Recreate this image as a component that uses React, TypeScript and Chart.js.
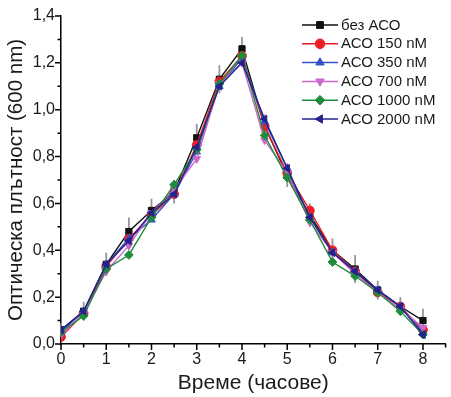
import { useEffect, useRef } from 'react';
import { Chart, registerables } from 'chart.js';
import { drawPoint } from 'chart.js/helpers';

Chart.register(...registerables);

const timeHours = [0, 0.5, 1, 1.5, 2, 2.5, 3, 3.5, 4, 4.5, 5, 5.5, 6, 6.5, 7, 7.5, 8];

const seriesLabels = ['без АСО', 'АСО 150 nM', 'АСО 350 nM', 'АСО 700 nM', 'АСО 1000 nM', 'АСО 2000 nM'];

const noASO = [0.06, 0.14, 0.34, 0.48, 0.57, 0.65, 0.88, 1.13, 1.26, 0.93, 0.72, 0.55, 0.40, 0.32, 0.23, 0.16, 0.10];
const aso150 = [0.03, 0.13, 0.33, 0.45, 0.55, 0.64, 0.85, 1.12, 1.23, 0.93, 0.73, 0.57, 0.40, 0.31, 0.22, 0.16, 0.06];
const aso350 = [0.05, 0.14, 0.34, 0.45, 0.53, 0.64, 0.82, 1.10, 1.22, 0.95, 0.75, 0.54, 0.39, 0.31, 0.23, 0.16, 0.05];
const aso700 = [0.04, 0.13, 0.31, 0.42, 0.56, 0.66, 0.79, 1.11, 1.20, 0.87, 0.73, 0.52, 0.39, 0.30, 0.22, 0.15, 0.07];
const aso1000 = [0.05, 0.12, 0.32, 0.38, 0.54, 0.68, 0.83, 1.11, 1.23, 0.89, 0.71, 0.53, 0.35, 0.29, 0.22, 0.14, 0.04];
const aso2000 = [0.06, 0.14, 0.34, 0.44, 0.56, 0.64, 0.84, 1.10, 1.20, 0.96, 0.75, 0.54, 0.39, 0.31, 0.23, 0.16, 0.04];

const errNoASO = [0.03, 0.04, 0.05, 0.06, 0.05, 0.05, 0.06, 0.06, 0.05, 0.05, 0.05, 0.05, 0.05, 0.06, 0.04, 0.04, 0.05];

const xTickValues = [0, 1, 2, 3, 4, 5, 6, 7, 8];
const yTickValues = [0, 0.2, 0.4, 0.6, 0.8, 1.0, 1.2, 1.4];

const seriesValues = [noASO, aso150, aso350, aso700, aso1000, aso2000];
const seriesColors = ['#111111', '#ee1c24', '#3552c4', '#cc66cc', '#1e8c3c', '#23238c'];
const seriesStyles = ['rect', 'circle', 'triangle', 'triangle', 'rectRot', 'triangle'];
const seriesRotation = [0, 0, 0, 180, 0, -90];
const seriesErrors = [errNoASO, null, null, null, null, null];

const FONT = '"Liberation Sans", Arial, sans-serif';
const TEXT = '#1a1a1a';

const errorBarPlugin = {
  id: 'errorBars',
  beforeDatasetsDraw(chart: any) {
    const { ctx } = chart;
    const xs = chart.scales.x;
    const ys = chart.scales.y;
    ctx.save();
    ctx.strokeStyle = 'rgba(140,140,140,0.9)';
    ctx.lineWidth = 1.8;
    seriesErrors.forEach((errs, si) => {
      if (!errs) return;
      const vals = seriesValues[si];
      timeHours.forEach((t, i) => {
        const px = xs.getPixelForValue(t);
        const top = ys.getPixelForValue(vals[i] + errs[i]);
        const bot = ys.getPixelForValue(Math.max(0, vals[i] - errs[i]));
        ctx.beginPath();
        ctx.moveTo(px, top);
        ctx.lineTo(px, bot);
        ctx.stroke();
      });
    });
    ctx.restore();
  },
};

const axisTicksPlugin = {
  id: 'axisTicks',
  afterDraw(chart: any) {
    const { ctx, chartArea } = chart;
    const xs = chart.scales.x;
    const ys = chart.scales.y;
    ctx.save();
    ctx.strokeStyle = '#000';
    ctx.lineWidth = 1.5;
    ctx.beginPath();
    for (let v = 0; v <= 8.5001; v += 0.5) {
      const px = xs.getPixelForValue(v);
      const major = Math.abs(v - Math.round(v)) < 1e-6;
      ctx.moveTo(px, chartArea.bottom);
      ctx.lineTo(px, chartArea.bottom + (major ? 6 : 3.5));
    }
    for (let k = 0; k <= 14; k++) {
      const v = k / 10;
      const py = ys.getPixelForValue(v);
      const major = k % 2 === 0;
      ctx.moveTo(chartArea.left, py);
      ctx.lineTo(chartArea.left - (major ? 6 : 3.5), py);
    }
    ctx.stroke();
    ctx.restore();
  },
};

const legendPlugin = {
  id: 'customLegend',
  afterDraw(chart: any) {
    const { ctx } = chart;
    const x0 = 302;
    const y0 = 25;
    const dy = 18.8;
    const lineLen = 36;
    chart.data.datasets.forEach((ds: any, i: number) => {
      const y = y0 + i * dy;
      ctx.save();
      ctx.strokeStyle = ds.borderColor;
      ctx.lineWidth = 1.5;
      ctx.beginPath();
      ctx.moveTo(x0, y);
      ctx.lineTo(x0 + lineLen, y);
      ctx.stroke();
      ctx.fillStyle = ds.backgroundColor;
      ctx.strokeStyle = ds.borderColor;
      ctx.lineWidth = 1;
      drawPoint(ctx, { pointStyle: ds.pointStyle, rotation: ds.pointRotation || 0, radius: 4.8, borderWidth: 1 } as any, x0 + lineLen / 2, y);
      ctx.fillStyle = TEXT;
      ctx.font = `15px ${FONT}`;
      ctx.textBaseline = 'middle';
      ctx.textAlign = 'left';
      ctx.fillText(ds.label, x0 + lineLen + 3, y + 0.5);
      ctx.restore();
    });
  },
};

export default function App() {
  const canvasRef = useRef<HTMLCanvasElement | null>(null);

  useEffect(() => {
    document.body.style.margin = '0';
    const canvas = canvasRef.current;
    if (!canvas) return;
    const chart = new Chart(canvas, {
      type: 'line',
      data: {
        datasets: seriesLabels.map((label, si) => ({
          label,
          data: timeHours.map((t, i) => ({ x: t, y: seriesValues[si][i] })),
          borderColor: seriesColors[si],
          backgroundColor: seriesColors[si],
          borderWidth: 1.4,
          pointStyle: seriesStyles[si] as any,
          pointRotation: seriesRotation[si],
          pointRadius: 4.4,
          pointBorderWidth: 1,
          tension: 0,
          fill: false,
          order: 5 - si,
        })),
      },
      options: {
        responsive: false,
        animation: false,
        events: [],
        layout: { padding: { top: 16, right: 0, left: 0, bottom: 0 } },
        plugins: {
          legend: { display: false },
          tooltip: { enabled: false },
          title: { display: false },
        },
        scales: {
          x: {
            type: 'linear',
            min: 0,
            max: 8.5,
            afterBuildTicks: (scale: any) => {
              scale.ticks = xTickValues.map((v) => ({ value: v }));
            },
            afterFit: (scale: any) => {
              scale.height = 53;
            },
            ticks: {
              autoSkip: false,
              maxRotation: 0,
              padding: 1,
              color: TEXT,
              font: { family: FONT, size: 16 },
              callback: (v: any) => String(v),
            },
            grid: { display: true, drawOnChartArea: false, drawTicks: true, tickLength: 5, tickColor: 'rgba(0,0,0,0)', color: 'rgba(0,0,0,0)' },
            border: { display: true, color: '#000', width: 1.5 },
            title: {
              display: true,
              text: 'Време (часове)',
              color: TEXT,
              font: { family: FONT, size: 21 },
              padding: { top: 0, bottom: 1 },
            },
          },
          y: {
            type: 'linear',
            min: 0,
            max: 1.4,
            afterBuildTicks: (scale: any) => {
              scale.ticks = yTickValues.map((v) => ({ value: v }));
            },
            afterFit: (scale: any) => {
              scale.width = 61;
            },
            ticks: {
              autoSkip: false,
              padding: 1,
              color: TEXT,
              font: { family: FONT, size: 16 },
              callback: (v: any) => Number(v).toFixed(1).replace('.', ','),
            },
            grid: { display: true, drawOnChartArea: false, drawTicks: true, tickLength: 5, tickColor: 'rgba(0,0,0,0)', color: 'rgba(0,0,0,0)' },
            border: { display: true, color: '#000', width: 1.5 },
            title: {
              display: true,
              text: 'Оптическа плътност (600 nm)',
              color: TEXT,
              font: { family: FONT, size: 20.5 },
              padding: { top: 4, bottom: 0 },
            },
          },
        },
      },
      plugins: [errorBarPlugin, axisTicksPlugin, legendPlugin],
    });
    return () => chart.destroy();
  }, []);

  return (
    <div style={{ width: 451, height: 397 }}>
      <canvas ref={canvasRef} width={451} height={397} style={{ display: 'block' }} />
    </div>
  );
}
